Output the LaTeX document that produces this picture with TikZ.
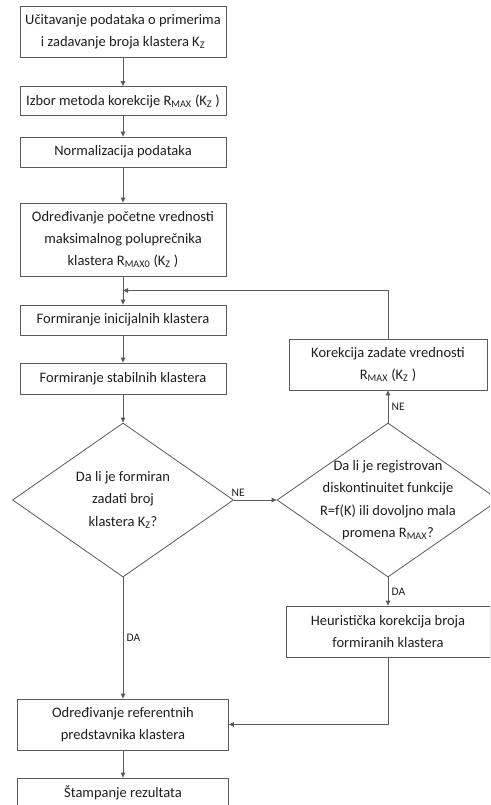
\documentclass[tikz,border=0pt]{standalone}
\usepackage{fontspec}
\setmainfont{Carlito}
\usepackage{tikz}
\usetikzlibrary{arrows.meta, positioning, shapes.geometric, calc}
\definecolor{flowline}{HTML}{5A5A5A}
\definecolor{flowtext}{HTML}{1E1E1E}
\tikzset{
  procbox/.style={draw=flowline, line width=0.8pt, align=center, text=flowtext,
                  inner sep=2pt, font=\fontsize{14.5}{22}\selectfont},
  decision/.style={draw=flowline, line width=0.8pt, diamond, inner sep=0pt,
                   minimum width=221pt, minimum height=154pt},
  qtext/.style={align=center, text=flowtext, font=\fontsize{14.5}{22.3}\selectfont},
  flow/.style={-{Triangle[length=5pt, width=4.5pt]}, draw=flowline, line width=0.8pt},
  lbl/.style={font=\fontsize{11.5}{14}\selectfont, text=flowtext},
}

\begin{document}
\begin{tikzpicture}[x=1pt, y=-1pt]
    \useasboundingbox (0,0) rectangle (490,805);
    \clip (0,0) rectangle (490,805);

    % main column
    \node[procbox, minimum width=206pt, minimum height=51pt] (ucit) at (123,32)
        {Učitavanje podataka o primerima\\i zadavanje broja klastera K\textsubscript{Z}};
    \node[procbox, minimum width=206pt, minimum height=29pt] (izbor) at (123,101)
        {Izbor metoda korekcije R\textsubscript{MAX} (K\textsubscript{Z} )};
    \node[procbox, minimum width=206pt, minimum height=30pt] (norm) at (123,152)
        {Normalizacija podataka};
    \node[procbox, minimum width=206pt, minimum height=73pt] (pocet) at (123,239.5)
        {Određivanje početne vrednosti\\maksimalnog poluprečnika\\klastera R\textsubscript{MAX0} (K\textsubscript{Z} )};
    \node[procbox, minimum width=206pt, minimum height=30pt] (inic) at (123,320)
        {Formiranje inicijalnih klastera};
    \node[procbox, minimum width=206pt, minimum height=31pt] (stab) at (123,378.5)
        {Formiranje stabilnih klastera};
    \node[decision] (brojq) at (123,500) {};
    \node[qtext] (brojqt) at (brojq) {Da li je formiran\\zadati broj\\klastera K\textsubscript{Z}?};
    \node[procbox, minimum width=211pt, minimum height=51pt] (refer) at (123,724.5)
        {Određivanje referentnih\\predstavnika klastera};
    \node[procbox, minimum width=211pt, minimum height=30pt] (stamp) at (123,793)
        {Štampanje rezultata};

    % correction column
    \node[procbox, minimum width=198pt, minimum height=51pt] (korek) at (388,364.5)
        {Korekcija zadate vrednosti\\R\textsubscript{MAX} (K\textsubscript{Z} )};
    \node[decision, minimum width=222pt] (diskq) at (388,500) {};
    \node[qtext] (diskqt) at (diskq)
        {Da li je registrovan\\diskontinuitet funkcije\\R=f(K) ili dovoljno mala\\promena R\textsubscript{MAX}?};
    \node[procbox, minimum width=204pt, minimum height=51pt] (heur) at (388,631.5)
        {Heuristička korekcija broja\\formiranih klastera};

    \coordinate (join) at ($(pocet.south)!0.5!(inic.north)$);

    \draw[flow] (ucit) -- (izbor);
    \draw[flow] (izbor) -- (norm);
    \draw[flow] (norm) -- (pocet);
    \draw[flow] (pocet) -- (inic);
    \draw[flow] (inic) -- (stab);
    \draw[flow] (stab) -- (brojq);
    \draw[flow] (brojq.east) -- node[lbl, above, pos=0.1] {NE} (diskq.west);
    \draw[flow] (brojq.south) -- node[lbl, right] {DA} (refer.north);
    \draw[flow] (diskq.north) -- node[lbl, right] {NE} (korek.south);
    \draw[flow] (diskq.south) -- node[lbl, right] {DA} (heur.north);
    \draw[flow] (heur.south) |- (refer.east);
    \draw[flow] (korek.north) |- (join);
    \draw[flow] (refer) -- (stamp);
\end{tikzpicture}
\end{document}
